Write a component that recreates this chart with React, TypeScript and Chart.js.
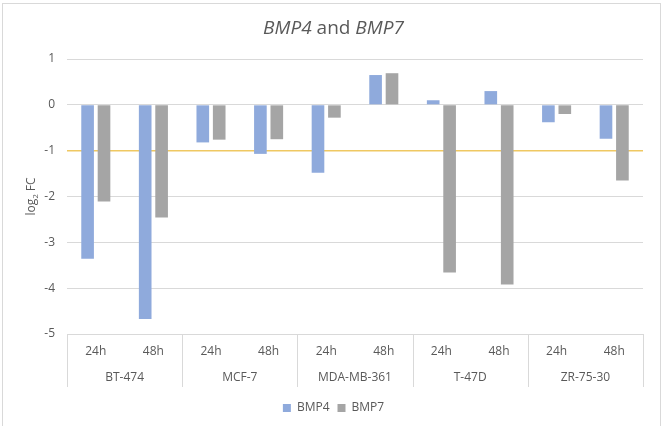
import React, { useEffect, useRef } from "react";
import { Chart, registerables } from "chart.js";

Chart.register(...registerables);

const cellLines = ["BT-474", "MCF-7", "MDA-MB-361", "T-47D", "ZR-75-30"];
const timePoints = ["24h", "48h"];
const bmp4Values = [-3.36, -4.67, -0.82, -1.07, -1.48, 0.65, 0.1, 0.3, -0.38, -0.74];
const bmp7Values = [-2.11, -2.46, -0.76, -0.75, -0.28, 0.69, -3.66, -3.92, -0.2, -1.65];
const yTicks = [1, 0, -1, -2, -3, -4, -5];
const thresholdValue = -1;

const FONT = "'Open Sans', 'Noto Sans', sans-serif";
const TEXT = "#595959";
const GRID = "#d9d9d9";

const decorPlugin = {
  id: "decor",
  beforeDatasetsDraw(chart: any) {
    const { ctx, chartArea } = chart;
    const y = chart.scales.y.getPixelForValue(thresholdValue);
    ctx.save();
    ctx.strokeStyle = "#efc862";
    ctx.lineWidth = 1.5;
    ctx.beginPath();
    ctx.moveTo(chartArea.left, y);
    ctx.lineTo(chartArea.right, y);
    ctx.stroke();
    ctx.restore();
  },
  afterDraw(chart: any) {
    const { ctx, chartArea } = chart;
    const xs = chart.scales.x;
    const x2 = chart.scales.x2;
    ctx.save();
    ctx.strokeStyle = GRID;
    ctx.lineWidth = 1;
    const n = cellLines.length;
    const per = timePoints.length;
    const bounds: number[] = [chartArea.left];
    for (let i = 1; i < n; i++) {
      const a = xs.getPixelForValue(i * per - 1);
      const b = xs.getPixelForValue(i * per);
      bounds.push((a + b) / 2);
    }
    bounds.push(chartArea.right);
    const yEnd = x2.top + 23;
    for (const bx of bounds) {
      const px = Math.round(bx) + 0.5;
      ctx.beginPath();
      ctx.moveTo(px, chartArea.bottom);
      ctx.lineTo(px, yEnd);
      ctx.stroke();
    }
    // y-axis title with subscript
    const cy = (chartArea.top + chartArea.bottom) / 2;
    ctx.translate(31, cy);
    ctx.rotate(-Math.PI / 2);
    ctx.fillStyle = TEXT;
    ctx.textBaseline = "alphabetic";
    const main = `12px ${FONT}`;
    const sub = `8px ${FONT}`;
    ctx.font = main;
    const w1 = ctx.measureText("log").width;
    const w3 = ctx.measureText(" FC").width;
    ctx.font = sub;
    const w2 = ctx.measureText("2").width;
    const total = w1 + w2 + w3;
    let x = -total / 2;
    const base = 4;
    ctx.font = main;
    ctx.fillText("log", x, base);
    x += w1;
    ctx.font = sub;
    ctx.fillText("2", x, base + 3);
    x += w2;
    ctx.font = main;
    ctx.fillText(" FC", x, base);
    ctx.restore();
  },
};

export default function App() {
  const ref = useRef<HTMLCanvasElement>(null);
  useEffect(() => {
    if (!ref.current) return;
    const labels = cellLines.flatMap(() => timePoints);
    const chart = new Chart(ref.current, {
      type: "bar",
      data: {
        labels,
        datasets: [
          {
            label: "BMP4",
            data: bmp4Values,
            backgroundColor: "#8faadc",
            categoryPercentage: 0.57,
            barPercentage: 0.77,
          },
          {
            label: "BMP7",
            data: bmp7Values,
            backgroundColor: "#a5a5a5",
            categoryPercentage: 0.57,
            barPercentage: 0.77,
          },
        ],
      },
      options: {
        responsive: false,
        animation: false,
        layout: { padding: { top: 59, right: 24, left: 24, bottom: 2 } },
        plugins: {
          title: { display: false },
          tooltip: { enabled: false },
          legend: {
            position: "bottom",
            labels: {
              boxWidth: 8,
              boxHeight: 8,
              color: TEXT,
              font: { family: FONT, size: 12 },
              padding: 8,
            },
          },
        },
        scales: {
          y: {
            min: -5,
            max: 1,
            afterBuildTicks(scale: any) {
              scale.ticks = yTicks.map((v) => ({ value: v }));
            },
            afterFit(scale: any) {
              scale.width = 43;
            },
            ticks: {
              color: TEXT,
              font: { family: FONT, size: 12 },
              padding: 12,
            },
            grid: { color: GRID, drawTicks: false },
            border: { display: false },
          },
          x: {
            type: "category",
            offset: true,
            grid: { display: false, drawTicks: false },
            border: { display: false },
            ticks: {
              color: TEXT,
              font: { family: FONT, size: 12 },
              padding: 10,
              maxRotation: 0,
              autoSkip: false,
            },
            afterFit(scale: any) {
              scale.height = 30;
            },
          },
          x2: {
            type: "category",
            position: "bottom",
            labels: cellLines,
            offset: true,
            grid: { display: false, drawTicks: false },
            border: { display: false },
            ticks: {
              color: TEXT,
              font: { family: FONT, size: 12 },
              padding: 6,
              maxRotation: 0,
              autoSkip: false,
            },
            afterFit(scale: any) {
              scale.height = 30;
            },
          },
        },
      },
      plugins: [decorPlugin],
    });
    return () => chart.destroy();
  }, []);

  return (
    <div
      style={{
        position: "fixed",
        left: 0,
        top: 0,
        width: 667,
        height: 426,
        overflow: "hidden",
        background: "#fff",
      }}
    >
      <div
        style={{
          position: "absolute",
          left: 2,
          top: 3,
          width: 659,
          height: 440,
          border: `1px solid ${GRID}`,
          boxSizing: "border-box",
        }}
      />
      <canvas
        ref={ref}
        width={667}
        height={426}
        style={{ position: "absolute", left: 0, top: 0, width: 667, height: 426 }}
      />
      <div
        style={{
          position: "absolute",
          left: 0,
          top: 17,
          width: 667,
          textAlign: "center",
          fontFamily: FONT,
          fontSize: 19,
          lineHeight: "20px",
          color: TEXT,
          whiteSpace: "pre",
        }}
      >
        <i>BMP4</i> and <i>BMP7</i>
      </div>
    </div>
  );
}
